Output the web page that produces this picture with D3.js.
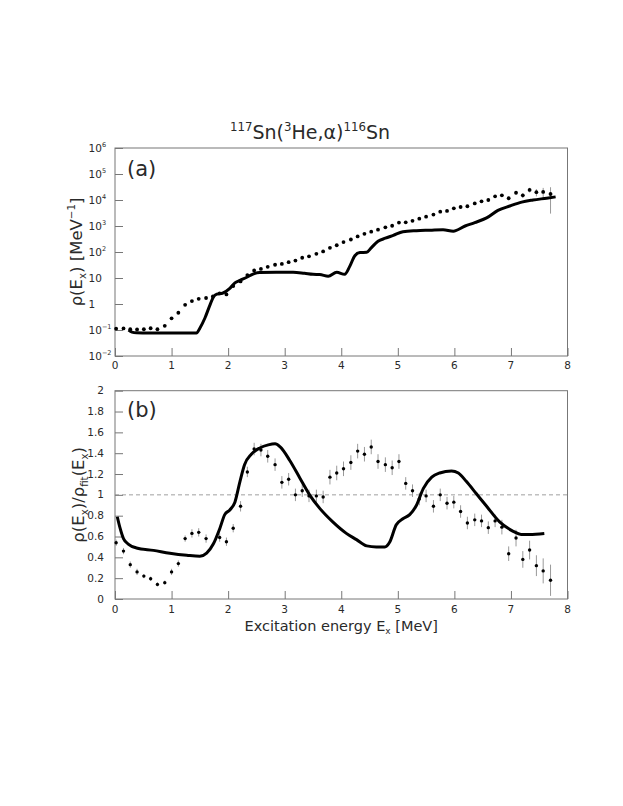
<!DOCTYPE html>
<html>
<head>
<meta charset="utf-8">
<script src="https://cdn.jsdelivr.net/npm/d3@7"></script>
<style>
  body { margin: 0; background: #fff; }
  svg { display: block; font-family: "DejaVu Sans", sans-serif; }
</style>
</head>
<body>
<script>
// excitation energies of the data points (MeV)
const energies = [0.02, 0.15, 0.27, 0.39, 0.51, 0.63, 0.75, 0.88, 1.00, 1.12,
  1.24, 1.36, 1.48, 1.61, 1.73, 1.85, 1.97, 2.09, 2.22, 2.34,
  2.46, 2.58, 2.70, 2.83, 2.95, 3.07, 3.19, 3.31, 3.43, 3.56,
  3.68, 3.80, 3.92, 4.04, 4.17, 4.29, 4.41, 4.53, 4.65, 4.78,
  4.90, 5.02, 5.14, 5.26, 5.38, 5.50, 5.63, 5.75, 5.87, 5.99,
  6.11, 6.23, 6.36, 6.48, 6.60, 6.72, 6.84, 6.96, 7.09, 7.21,
  7.33, 7.45, 7.57, 7.70];

// panel (a): measured level density (MeV^-1)
const rhoExp = [0.112, 0.115, 0.107, 0.105, 0.107, 0.117, 0.107, 0.145, 0.28, 0.46,
  0.93, 1.29, 1.58, 1.70, 1.95, 2.57, 2.34, 4.9, 7.4, 12.9,
  19.5, 22.4, 26.9, 32.4, 34.7, 40.7, 46.8, 60, 68, 85,
  105, 145, 182, 240, 302, 398, 501, 603, 724, 891,
  1023, 1349, 1380, 1585, 1905, 2290, 2754, 3548, 3802, 4786,
  5370, 5754, 7413, 8913, 10000, 13800, 15100, 11700, 19000, 15100,
  24500, 20000, 20400, 17000];
const rhoErr = [0.007, 0.007, 0.007, 0.007, 0.007, 0.008, 0.008, 0.01, 0.02, 0.03,
  0.05, 0.07, 0.09, 0.1, 0.12, 0.15, 0.15, 0.3, 0.4, 0.6,
  0.9, 1.1, 1.3, 1.6, 1.8, 2.2, 2.5, 3, 4, 5,
  6, 8, 10, 14, 17, 21, 27, 31, 39, 48,
  57, 74, 80, 95, 120, 150, 200, 260, 300, 400,
  460, 560, 700, 880, 1050, 1400, 1600, 1900, 2600, 3200,
  5000, 6200, 8800, 14000];

// panel (a): calculated level density
const calcEa = [0.24, 0.30, 0.38, 0.60, 0.90, 1.20, 1.44, 1.50, 1.59, 1.68,
  1.74, 1.80, 1.90, 2.03, 2.12, 2.21, 2.33, 2.44, 2.56, 2.85,
  3.15, 3.35, 3.50, 3.62, 3.77, 3.92, 4.06, 4.15, 4.24, 4.33,
  4.45, 4.53, 4.65, 4.78, 4.92, 5.09, 5.33, 5.57, 5.80, 5.98,
  6.19, 6.36, 6.57, 6.77, 6.98, 7.19, 7.39, 7.63, 7.79];
const calcRho = [0.100, 0.083, 0.078, 0.076, 0.076, 0.076, 0.076, 0.117, 0.29, 0.93,
  1.86, 2.4, 2.6, 4.0, 6.5, 8.1, 10.7, 14.1, 16.2, 16.6,
  16.6, 15.1, 13.8, 13.5, 11.7, 16.6, 13.8, 28, 72, 95,
  98, 145, 257, 339, 437, 603, 661, 692, 724, 631,
  1000, 1349, 2042, 3981, 5888, 8318, 10000, 11750, 13180];

// panel (b): measured / fitted ratio
const ratioExp = [0.54, 0.46, 0.33, 0.26, 0.22, 0.195, 0.14, 0.157, 0.26, 0.34,
  0.58, 0.63, 0.64, 0.58, null, 0.59, 0.55, 0.68, 0.89, 1.22,
  1.44, 1.43, 1.37, 1.29, 1.12, 1.15, 1.00, 1.04, 0.99, 0.99,
  0.98, 1.17, 1.21, 1.25, 1.31, 1.42, 1.39, 1.46, 1.32, 1.29,
  1.26, 1.32, 1.11, 1.04, 0.96, 0.99, 0.89, 1.00, 0.92, 0.93,
  0.84, 0.73, 0.76, 0.75, 0.685, 0.75, 0.69, 0.435, 0.585, 0.38,
  0.47, 0.32, 0.27, 0.18];
const ratioErr = [0.03, 0.03, 0.03, 0.03, 0.02, 0.02, 0.02, 0.02, 0.03, 0.03,
  0.03, 0.04, 0.04, 0.04, null, 0.04, 0.04, 0.04, 0.05, 0.05,
  0.06, 0.06, 0.06, 0.06, 0.06, 0.06, 0.06, 0.06, 0.06, 0.06,
  0.06, 0.07, 0.07, 0.07, 0.07, 0.07, 0.07, 0.07, 0.07, 0.07,
  0.07, 0.07, 0.06, 0.06, 0.06, 0.06, 0.06, 0.06, 0.06, 0.06,
  0.06, 0.06, 0.06, 0.06, 0.06, 0.06, 0.07, 0.07, 0.08, 0.08,
  0.09, 0.1, 0.12, 0.15];

// panel (b): calculated / fitted ratio
const calcEb = [0.04, 0.09, 0.15, 0.24, 0.38, 0.68, 0.97, 1.27, 1.50, 1.62,
  1.74, 1.855, 1.94, 2.03, 2.12, 2.21, 2.29, 2.41, 2.56, 2.71,
  2.83, 2.92, 3.09, 3.27, 3.44, 3.62, 3.85, 4.09, 4.27, 4.45,
  4.62, 4.77, 4.86, 4.97, 5.09, 5.21, 5.33, 5.45, 5.60, 5.74,
  5.95, 6.07, 6.21, 6.39, 6.57, 6.80, 7.04, 7.18, 7.33, 7.59];
const calcRatio = [0.79, 0.68, 0.58, 0.525, 0.49, 0.467, 0.44, 0.42, 0.41, 0.44,
  0.53, 0.68, 0.81, 0.855, 0.93, 1.13, 1.29, 1.39, 1.45, 1.48,
  1.49, 1.46, 1.33, 1.16, 1.00, 0.87, 0.74, 0.63, 0.57, 0.51,
  0.50, 0.50, 0.55, 0.71, 0.77, 0.81, 0.90, 1.06, 1.17, 1.21,
  1.23, 1.21, 1.13, 1.01, 0.89, 0.74, 0.65, 0.62, 0.62, 0.63];

// tick values
const xTicks = [0, 1, 2, 3, 4, 5, 6, 7, 8];
const yDecades = [-2, -1, 0, 1, 2, 3, 4, 5, 6];
const yTicksB = [0, 0.2, 0.4, 0.6, 0.8, 1, 1.2, 1.4, 1.6, 1.8, 2];
const yTickLabelsB = ["0", "0.2", "0.4", "0.6", "0.8", "1", "1.2", "1.4", "1.6", "1.8", "2"];

const W = 623, H = 806;
const frameCol = "#777", textCol = "#2a2a2a";

const svg = d3.select("body").append("svg")
  .attr("width", W).attr("height", H);

const x = d3.scaleLinear().domain([0, 8]).range([115, 567.5]);
const yA = d3.scaleLog().domain([1e-2, 1e6]).range([356, 148]);
const yB = d3.scaleLinear().domain([0, 2]).range([599, 390.7]);

// text with sub/superscripts: parts = [[text, "sup"|"sub"|null], ...]
function rich(sel, parts, size) {
  let off = 0;
  parts.forEach(([t, k]) => {
    const target = k === "sup" ? -size * 0.42 : k === "sub" ? size * 0.22 : 0;
    sel.append("tspan")
      .attr("dy", target - off)
      .attr("font-size", k ? size * 0.62 : size)
      .text(t);
    off = target;
  });
  return sel;
}

function frame(y) {
  svg.append("rect")
    .attr("x", x.range()[0]).attr("y", y.range()[1])
    .attr("width", x.range()[1] - x.range()[0])
    .attr("height", y.range()[0] - y.range()[1])
    .attr("fill", "none").attr("stroke", frameCol);
}

function xAxis(y, labelOffset) {
  const yb = y.range()[0];
  const minor = d3.range(0, 8.001, 0.2).filter(v => Math.abs(v - Math.round(v)) > 1e-6);
  const g = svg.append("g").attr("transform", `translate(0,${yb})`);
  g.call(d3.axisBottom(x).tickValues(minor).tickSize(-4).tickFormat(""));
  g.call(d3.axisBottom(x).tickValues(xTicks).tickSize(-8).tickFormat(""));
  g.selectAll("path.domain").remove();
  g.selectAll("line").attr("stroke", frameCol);
  svg.append("g").selectAll("text").data(xTicks).enter().append("text")
    .attr("x", d => x(d)).attr("y", yb + labelOffset)
    .attr("text-anchor", "middle").attr("font-size", 10.5).attr("fill", textCol)
    .text(d => d);
}

// ---------- panel (a) ----------
frame(yA);
xAxis(yA, 13);
{
  const minor = [];
  yDecades.slice(0, -1).forEach(d => { for (let k = 2; k <= 9; k++) minor.push(k * Math.pow(10, d)); });
  const g = svg.append("g").attr("transform", `translate(${x.range()[0]},0)`);
  g.call(d3.axisLeft(yA).tickValues(minor).tickSize(-4).tickFormat(""));
  g.call(d3.axisLeft(yA).tickValues(yDecades.map(d => Math.pow(10, d))).tickSize(-8).tickFormat(""));
  g.selectAll("path.domain").remove();
  g.selectAll("line").attr("stroke", frameCol);
  yDecades.forEach(d => {
    const t = svg.append("text")
      .attr("x", 88.5).attr("y", yA(Math.pow(10, d)) + 3.5)
      .attr("fill", textCol);
    if (d === 0) rich(t, [["1", null]], 10.5);
    else if (d === 1) rich(t, [["10", null]], 10.5);
    else rich(t, [["10", null], [d < 0 ? "\u2212" + (-d) : String(d), "sup"]], 10.5);
  });
}

const ptsA = energies.map((e, i) => ({ e, v: rhoExp[i], err: rhoErr[i] }));
svg.append("g").selectAll("line").data(ptsA).enter().append("line")
  .attr("x1", d => x(d.e)).attr("x2", d => x(d.e))
  .attr("y1", d => yA(Math.max(d.v - d.err, 1e-2)))
  .attr("y2", d => yA(d.v + d.err))
  .attr("stroke", "#999").attr("stroke-width", 1);

svg.append("path")
  .datum(calcEa.map((e, i) => [e, calcRho[i]]))
  .attr("fill", "none").attr("stroke", "#000").attr("stroke-width", 3)
  .attr("stroke-linejoin", "round")
  .attr("d", d3.line().x(d => x(d[0])).y(d => yA(d[1])).curve(d3.curveMonotoneX));

svg.append("g").selectAll("circle").data(ptsA).enter().append("circle")
  .attr("cx", d => x(d.e)).attr("cy", d => yA(d.v)).attr("r", 1.9).attr("fill", "#000");

svg.append("text").attr("x", 127).attr("y", 176)
  .attr("font-size", 21).attr("fill", textCol).text("(a)");

rich(svg.append("text")
  .attr("transform", `translate(82,${(yA.range()[0] + yA.range()[1]) / 2}) rotate(-90)`)
  .attr("text-anchor", "middle").attr("fill", textCol),
  [["\u03c1(E", null], ["x", "sub"], [") [MeV", null], ["\u22121", "sup"], ["]", null]], 16.5);

// ---------- panel (b) ----------
frame(yB);
xAxis(yB, 14);
{
  const minor = d3.range(0, 2.0001, 0.04).filter(v => Math.abs(v * 5 - Math.round(v * 5)) > 1e-6);
  const g = svg.append("g").attr("transform", `translate(${x.range()[0]},0)`);
  g.call(d3.axisLeft(yB).tickValues(minor).tickSize(-4).tickFormat(""));
  g.call(d3.axisLeft(yB).tickValues(yTicksB).tickSize(-8).tickFormat(""));
  g.selectAll("path.domain").remove();
  g.selectAll("line").attr("stroke", frameCol);
  svg.append("g").selectAll("text").data(yTicksB).enter().append("text")
    .attr("x", 104).attr("y", d => yB(d) + 3.5)
    .attr("text-anchor", "end").attr("font-size", 10.5).attr("fill", textCol)
    .text((d, i) => yTickLabelsB[i]);
}

svg.append("line")
  .attr("x1", x(0)).attr("x2", x(8)).attr("y1", yB(1)).attr("y2", yB(1))
  .attr("stroke", "#888").attr("stroke-dasharray", "4,3").attr("stroke-width", 0.8);

const ptsB = energies.map((e, i) => ({ e, v: ratioExp[i], err: ratioErr[i] }))
  .filter(d => d.v !== null);
svg.append("g").selectAll("line").data(ptsB).enter().append("line")
  .attr("x1", d => x(d.e)).attr("x2", d => x(d.e))
  .attr("y1", d => yB(d.v - d.err)).attr("y2", d => yB(d.v + d.err))
  .attr("stroke", "#999").attr("stroke-width", 1);

svg.append("path")
  .datum(calcEb.map((e, i) => [e, calcRatio[i]]))
  .attr("fill", "none").attr("stroke", "#000").attr("stroke-width", 3)
  .attr("stroke-linejoin", "round")
  .attr("d", d3.line().x(d => x(d[0])).y(d => yB(d[1])).curve(d3.curveMonotoneX));

svg.append("g").selectAll("circle").data(ptsB).enter().append("circle")
  .attr("cx", d => x(d.e)).attr("cy", d => yB(d.v)).attr("r", 1.7).attr("fill", "#000");

svg.append("text").attr("x", 127).attr("y", 417)
  .attr("font-size", 21).attr("fill", textCol).text("(b)");

rich(svg.append("text")
  .attr("transform", `translate(84,${(yB.range()[0] + yB.range()[1]) / 2}) rotate(-90)`)
  .attr("text-anchor", "middle").attr("fill", textCol),
  [["\u03c1(E", null], ["x", "sub"], [")/\u03c1", null], ["fit", "sub"], ["(E", null], ["x", "sub"], [")", null]], 16.5);

// x axis title
rich(svg.append("text")
  .attr("x", (x.range()[0] + x.range()[1]) / 2).attr("y", 631)
  .attr("text-anchor", "middle").attr("fill", textCol),
  [["Excitation energy E", null], ["x", "sub"], [" [MeV]", null]], 14.5);

// title
rich(svg.append("text")
  .attr("x", 310).attr("y", 138.5)
  .attr("text-anchor", "middle").attr("fill", textCol),
  [["117", "sup"], ["Sn(", null], ["3", "sup"], ["He,\u03b1)", null], ["116", "sup"], ["Sn", null]], 19);
</script>
</body>
</html>
